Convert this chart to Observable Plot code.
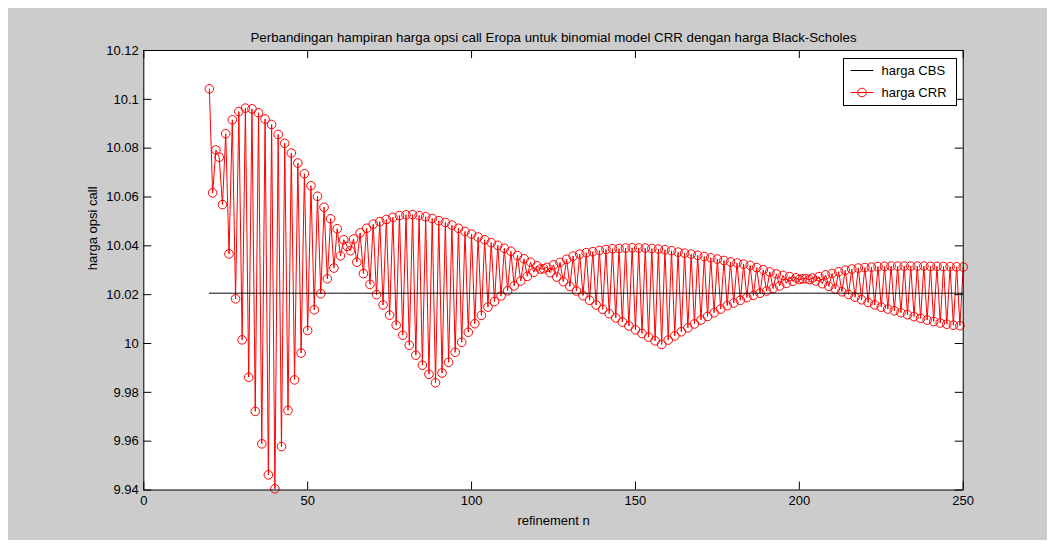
<!DOCTYPE html>
<html><head><meta charset="utf-8">
<script src="https://cdn.jsdelivr.net/npm/d3@7"></script>
<script src="https://cdn.jsdelivr.net/npm/@observablehq/plot@0.6"></script>
<style>
html,body{margin:0;padding:0;background:#ffffff;}
#fig{position:absolute;left:8px;top:8px;width:1039px;height:532px;background:#cccccc;overflow:hidden;}
#fig text{font-family:"Liberation Sans",Arial,sans-serif;}
#legend{position:absolute;left:835px;top:50px;}
</style></head><body><div id="fig"></div>
<script>
const title = "Perbandingan hampiran harga opsi call Eropa untuk binomial model CRR dengan harga Black-Scholes";
const xLabel = "refinement n";
const yLabel = "harga opsi call";
const seriesNames = ["harga CBS", "harga CRR"];
const nStart = 20;
const cbsPrice = 10.0206;
const crrPrice = [
  10.1043, 10.0617, 10.0793, 10.0763, 10.0569, 10.0859, 10.0367, 10.0916, 10.0183, 10.0950,
  10.0015, 10.0964, 9.9862, 10.0961, 9.9722, 10.0945, 9.9589, 10.0919, 9.9462, 10.0897,
  9.9405, 10.0856, 9.9578, 10.0820, 9.9726, 10.0780, 9.9851, 10.0739, 9.9961, 10.0695,
  10.0053, 10.0646, 10.0138, 10.0603, 10.0204, 10.0558, 10.0265, 10.0511, 10.0309, 10.0470,
  10.0359, 10.0425, 10.0398, 10.0380, 10.0428, 10.0333, 10.0453, 10.0286, 10.0472, 10.0242,
  10.0489, 10.0200, 10.0499, 10.0158, 10.0508, 10.0116, 10.0517, 10.0075, 10.0524, 10.0034,
  10.0527, 9.9993, 10.0528, 9.9952, 10.0524, 9.9911, 10.0519, 9.9874, 10.0512, 9.9839,
  10.0503, 9.9879, 10.0496, 9.9923, 10.0485, 9.9964, 10.0472, 10.0005, 10.0459, 10.0046,
  10.0448, 10.0081, 10.0436, 10.0115, 10.0425, 10.0149, 10.0413, 10.0172, 10.0402, 10.0195,
  10.0390, 10.0216, 10.0378, 10.0236, 10.0360, 10.0256, 10.0347, 10.0275, 10.0333, 10.0292,
  10.0318, 10.0305, 10.0306, 10.0312, 10.0290, 10.0322, 10.0272, 10.0332, 10.0253, 10.0345,
  10.0234, 10.0358, 10.0215, 10.0366, 10.0196, 10.0372, 10.0177, 10.0376, 10.0158, 10.0381,
  10.0140, 10.0385, 10.0122, 10.0388, 10.0105, 10.0389, 10.0088, 10.0391, 10.0072, 10.0392,
  10.0056, 10.0391, 10.0041, 10.0391, 10.0026, 10.0389, 10.0011, 10.0387, 9.9996, 10.0384,
  10.0014, 10.0380, 10.0031, 10.0374, 10.0048, 10.0370, 10.0064, 10.0366, 10.0080, 10.0361,
  10.0096, 10.0356, 10.0111, 10.0351, 10.0126, 10.0346, 10.0141, 10.0340, 10.0155, 10.0334,
  10.0166, 10.0330, 10.0177, 10.0325, 10.0188, 10.0320, 10.0197, 10.0311, 10.0206, 10.0302,
  10.0215, 10.0293, 10.0225, 10.0285, 10.0236, 10.0279, 10.0246, 10.0274, 10.0255, 10.0269,
  10.0262, 10.0265, 10.0266, 10.0262, 10.0268, 10.0256, 10.0274, 10.0245, 10.0281, 10.0234,
  10.0287, 10.0223, 10.0294, 10.0212, 10.0300, 10.0201, 10.0305, 10.0190, 10.0309, 10.0179,
  10.0311, 10.0168, 10.0313, 10.0158, 10.0315, 10.0149, 10.0316, 10.0141, 10.0317, 10.0134,
  10.0317, 10.0126, 10.0317, 10.0118, 10.0317, 10.0110, 10.0317, 10.0103, 10.0317, 10.0096,
  10.0316, 10.0090, 10.0316, 10.0084, 10.0315, 10.0079, 10.0315, 10.0075, 10.0314, 10.0073,
  10.0313
];
const xDomain = [0, 250];
const yDomain = [9.94, 10.12];
const xTicks = [0, 50, 100, 150, 200, 250];
const xTickLabels = ["0", "50", "100", "150", "200", "250"];
const yTicks = [9.94, 9.96, 9.98, 10.00, 10.02, 10.04, 10.06, 10.08, 10.10, 10.12];
const yTickLabels = ["9.94", "9.96", "9.98", "10", "10.02", "10.04", "10.06", "10.08", "10.1", "10.12"];

const crr = crrPrice.map((v, i) => ({n: nStart + i, v}));
const cbs = crr.map(d => ({n: d.n, v: cbsPrice}));

const W = 1039, H = 532;
const mL = 135.3, mT = 42, mR = 84.3, mB = 50.5;
const innerW = W - mL - mR;
const innerH = H - mT - mB;
const tk = 8;
const font = '"Liberation Sans", Arial, sans-serif';

const chart = Plot.plot({
  width: W, height: H,
  marginLeft: mL, marginTop: mT, marginRight: mR, marginBottom: mB,
  style: {background: "transparent", fontFamily: font, fontSize: "13px", color: "black", overflow: "visible"},
  x: {domain: xDomain, axis: null},
  y: {domain: yDomain, axis: null},
  marks: [
    Plot.frame({fill: "white"}),
    Plot.line(crr, {x: "n", y: "v", stroke: "#ff0000", strokeWidth: 1}),
    Plot.dot(crr, {x: "n", y: "v", r: 4.3, stroke: "#ff0000", fill: "none", strokeWidth: 1}),
    Plot.line(cbs, {x: "n", y: "v", stroke: "black", strokeWidth: 1}),
    Plot.tickX(xTicks, {x: d => d, insetTop: innerH - tk, stroke: "black"}),
    Plot.tickX(xTicks, {x: d => d, insetBottom: innerH - tk, stroke: "black"}),
    Plot.tickY(yTicks, {y: d => d, insetRight: innerW - tk, stroke: "black"}),
    Plot.tickY(yTicks, {y: d => d, insetLeft: innerW - tk, stroke: "black"}),
    Plot.frame({stroke: "black", strokeWidth: 1}),
    Plot.text(xTicks, {x: d => d, text: (d, i) => xTickLabels[i], frameAnchor: "bottom", dy: 15, fill: "black"}),
    Plot.text(yTicks, {y: d => d, text: (d, i) => yTickLabels[i], frameAnchor: "left", dx: -5, textAnchor: "end", fill: "black"}),
    Plot.text([title], {text: d => d, frameAnchor: "top", dy: -18, fontSize: 13.3, fill: "black"}),
    Plot.text([xLabel], {text: d => d, frameAnchor: "bottom", dy: 35, fill: "black"}),
    Plot.text([yLabel], {text: d => d, frameAnchor: "left", dx: -51, rotate: -90, fill: "black"})
  ]
});
const fig = document.getElementById("fig");
fig.appendChild(chart);

// legend
const lg = d3.select(fig).append("svg").attr("id", "legend")
  .attr("width", 115).attr("height", 49);
lg.append("rect").attr("x", 0.5).attr("y", 0.5).attr("width", 113).attr("height", 47)
  .attr("fill", "white").attr("stroke", "black");
const rows = [
  {name: seriesNames[0], color: "black", marker: false, y: 12.5},
  {name: seriesNames[1], color: "#ff0000", marker: true, y: 34.5}
];
for (const r of rows) {
  lg.append("line").attr("x1", 7.5).attr("x2", 30.5).attr("y1", r.y).attr("y2", r.y)
    .attr("stroke", r.color).attr("stroke-width", 1);
  if (r.marker) lg.append("circle").attr("cx", 19).attr("cy", r.y).attr("r", 4.3)
    .attr("fill", "none").attr("stroke", r.color);
  lg.append("text").attr("x", 38.5).attr("y", r.y).attr("dy", "0.35em")
    .attr("font-size", 13).attr("fill", "black").style("font-family", font).text(r.name);
}
</script>
</body></html>
